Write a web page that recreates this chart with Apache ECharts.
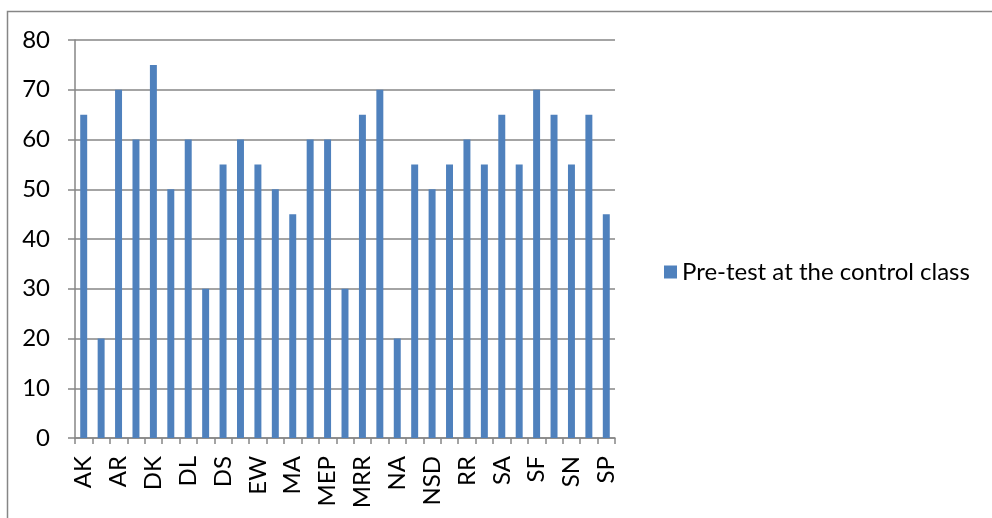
<!DOCTYPE html>
<html>
<head>
<meta charset="utf-8">
<script src="https://cdn.jsdelivr.net/npm/echarts@6/dist/echarts.min.js"></script>
<style>
  html, body { margin: 0; padding: 0; background: #fff; }
  #chart { width: 992px; height: 518px; }
</style>
</head>
<body>
<div id="chart"></div>
<script>
// Student initials (every other one is labelled on the axis)
const students = [
  'AK', 'AN', 'AR', 'BS', 'DK', 'DKR', 'DL', 'DR', 'DS', 'EA',
  'EW', 'FA', 'MA', 'MDA', 'MEP', 'MR', 'MRR', 'MS', 'NA', 'NH',
  'NSD', 'RA', 'RR', 'RS', 'SA', 'SE', 'SF', 'SM', 'SN', 'SNS', 'SP'
];
// Pre-test scores
const preTestScores = [
  65, 20, 70, 60, 75, 50, 60, 30, 55, 60,
  55, 50, 45, 60, 60, 30, 65, 70, 20, 55,
  50, 55, 60, 55, 65, 55, 70, 65, 55, 65, 45
];
const seriesName = 'Pre-test at the control class';
const yTicks = { min: 0, max: 80, step: 10 };

const fontFamily = 'Lato, "Open Sans", sans-serif';
const gridColor = '#868686';

const chart = echarts.init(document.getElementById('chart'), null, { renderer: 'canvas' });
chart.setOption({
  animation: false,
  backgroundColor: '#fff',
  graphic: [{
    type: 'rect',
    shape: { x: 7.5, y: 11.5, width: 1000, height: 600 },
    style: { fill: 'none', stroke: gridColor, lineWidth: 1.5 },
    silent: true
  }],
  grid: { left: 75, right: 377, top: 40, bottom: 80, containLabel: false },
  legend: {
    data: [seriesName],
    left: 659,
    top: 255,
    icon: 'rect',
    itemWidth: 13,
    itemHeight: 13,
    itemGap: 8,
    textStyle: { fontFamily, fontSize: 24, color: '#000' }
  },
  xAxis: {
    type: 'category',
    data: students,
    boundaryGap: true,
    axisLine: { show: true, lineStyle: { color: gridColor, width: 1.5 } },
    axisTick: { show: true, interval: 0, alignWithLabel: false, length: 6, lineStyle: { color: gridColor, width: 1.5 } },
    axisLabel: {
      interval: 1,
      rotate: 90,
      margin: 18,
      fontFamily,
      fontSize: 24,
      color: '#000'
    },
    splitLine: { show: false }
  },
  yAxis: {
    type: 'value',
    min: yTicks.min,
    max: yTicks.max,
    interval: yTicks.step,
    axisLine: { show: true, lineStyle: { color: gridColor, width: 1.5 } },
    axisTick: { show: true, length: 7, lineStyle: { color: gridColor, width: 1.5 } },
    axisLabel: { margin: 25, fontFamily, fontSize: 24, color: '#000' },
    splitLine: { show: true, lineStyle: { color: gridColor, width: 1.5 } }
  },
  series: [{
    name: seriesName,
    type: 'bar',
    data: preTestScores,
    barWidth: '40%',
    itemStyle: { color: '#4F81BD' }
  }]
});
</script>
</body>
</html>
